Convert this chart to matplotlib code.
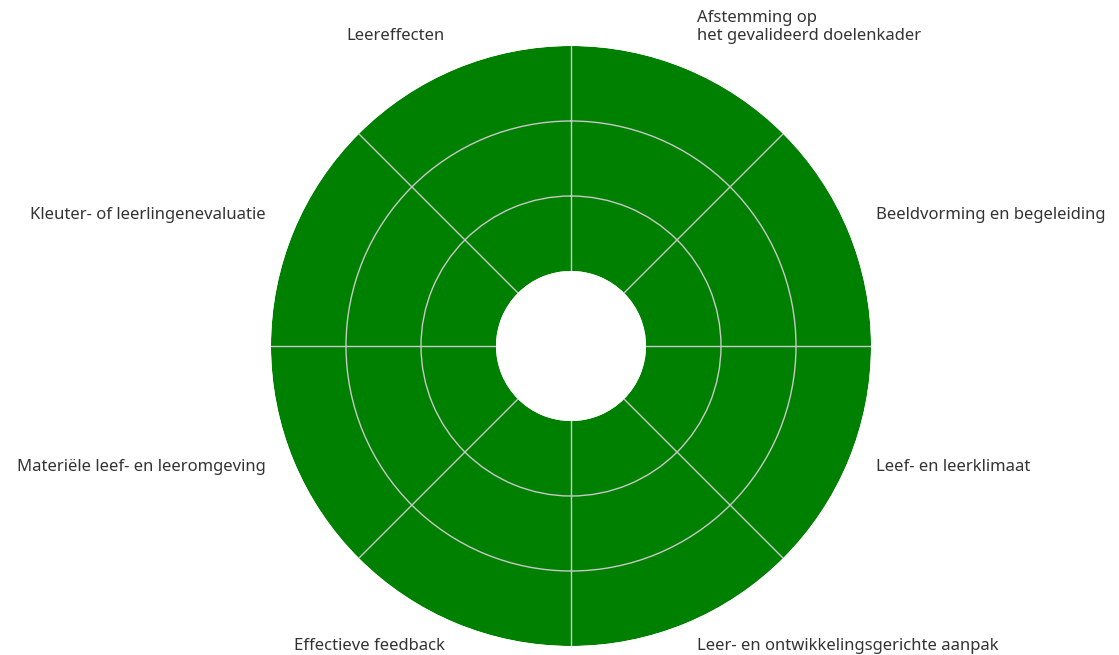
import numpy as np
from matplotlib import pyplot as plt
from matplotlib.transforms import offset_copy

# Categories clockwise from the top
categories = [
    "Afstemming op\nhet gevalideerd doelenkader",
    "Beeldvorming en begeleiding",
    "Leef- en leerklimaat",
    "Leer- en ontwikkelingsgerichte aanpak",
    "Effectieve feedback",
    "Materiële leef- en leeromgeving",
    "Kleuter- of leerlingenevaluatie",
    "Leereffecten",
]
scores = [3, 3, 3, 3, 3, 3, 3, 3]
rings = [1, 2]

plt.rcParams["font.family"] = ["Noto Sans", "DejaVu Sans"]

n = len(categories)
width = 2 * np.pi / n
theta = np.arange(n) * width + width / 2

fig = plt.figure(figsize=(11.19, 6.55), dpi=100)
ax = fig.add_axes([271 / 1119, 9 / 655, 600 / 1119, 600 / 655], projection="polar")
ax.set_theta_zero_location("N")
ax.set_theta_direction(-1)
ax.set_rorigin(-1)
ax.set_ylim(0, 3)

ax.bar(theta, scores, width=width, bottom=0, color="green", edgecolor="none",
       linewidth=0, zorder=1)

ax.set_xticks(np.arange(n) * width)
ax.set_xticklabels([])
ax.set_yticks(rings)
ax.set_yticklabels([])
ax.tick_params(length=0)
ax.grid(True, color="#c8c8c8", linewidth=1)
for sp in ax.spines.values():
    sp.set_visible(False)
    sp.set_linewidth(0)

# nudge labels a few pixels down
trans = offset_copy(ax.transData, fig=fig, x=0, y=-3, units="dots")
for t, lab in zip(theta, categories):
    # right half -> left aligned, left half -> right aligned
    ha = "left" if t < np.pi else "right"
    ax.text(t, 3.4, lab, ha=ha, va="bottom", fontsize=12, color="#333333",
            linespacing=1.15, transform=trans)

fig.savefig("out.png", dpi=100)
